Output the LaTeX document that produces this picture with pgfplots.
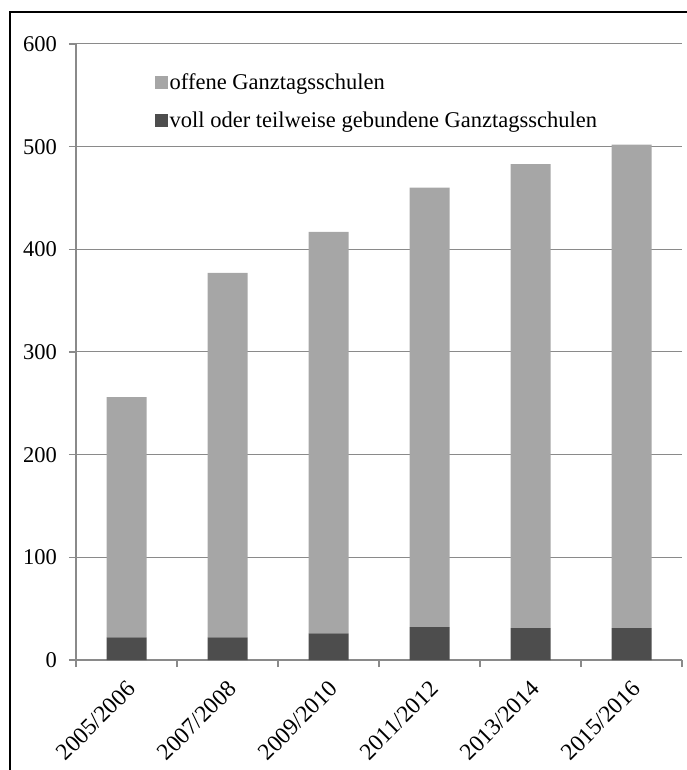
\documentclass[border=0pt]{standalone}
\usepackage{fontspec}
\setmainfont{Liberation Serif}
\usepackage{pgfplots}
\pgfplotsset{compat=1.18}
\definecolor{barlight}{HTML}{A6A6A6}
\definecolor{bardark}{HTML}{4D4D4D}
\definecolor{gridgray}{HTML}{8A8A8A}
\newcommand{\chfont}{\fontsize{22.5}{26}\selectfont\rmfamily}
\newcommand{\xl}[1]{\mbox{\fontsize{23.5}{27}\selectfont\rmfamily #1}}
\begin{document}
\begin{tikzpicture}[font=\chfont]
\useasboundingbox (0,0) rectangle (687pt,770pt);
\draw[line width=1.5pt] (10pt,0) -- (10pt,758pt) -- (690pt,758pt);
\begin{axis}[
  at={(76pt,110pt)}, anchor=south west,
  scale only axis, width=606pt, height=616pt,
  xmin=-0.5, xmax=5.5, ymin=0, ymax=600,
  ybar stacked, bar width=40pt,
  axis x line*=bottom, axis y line*=left,
  axis line style={gridgray, line width=1.2pt, -},
  ytick={0,100,...,600},
  ymajorgrids, grid style={gridgray, line width=1pt},
  tick align=outside,
  major tick length=7pt, minor tick length=7pt,
  y tick style={gridgray, line width=1.2pt},
  xtick={0,...,5},
  xticklabels={{\xl{2005/2006}},{\xl{2007/2008}},{\xl{2009/2010}},{\xl{2011/2012}},{\xl{2013/2014}},{\xl{2015/2016}}},
  major x tick style={draw=none},
  minor xtick={-0.5,0.5,...,5.5},
  minor x tick style={gridgray, line width=1.2pt},
  /pgf/number format/assume math mode=true,
  tick label style={font=\chfont},
  yticklabel style={inner sep=0pt, xshift=-12pt},
  xticklabel style={xshift=5pt, yshift=-18pt, rotate=45, anchor=east, inner sep=0pt},
  reverse legend,
  legend style={at={(axis description cs:0,1)}, anchor=north west, xshift=79pt, yshift=-28pt,
    draw=none, fill=none, inner sep=0pt, row sep=18pt, font=\chfont,
    nodes={inner sep=1.5pt, anchor=west}},
  legend cell align=left,
  legend image code/.code={\fill[#1] (0pt,-6.5pt) rectangle (13pt,6.5pt);},
]
\addplot[fill=bardark, draw=none] coordinates {(0,22) (1,22) (2,26) (3,32) (4,31) (5,31)};
\addplot[fill=barlight, draw=none] coordinates {(0,234) (1,355) (2,391) (3,428) (4,452) (5,471)};
\legend{voll oder teilweise gebundene Ganztagsschulen, offene Ganztagsschulen}
\end{axis}
\end{tikzpicture}
\end{document}
